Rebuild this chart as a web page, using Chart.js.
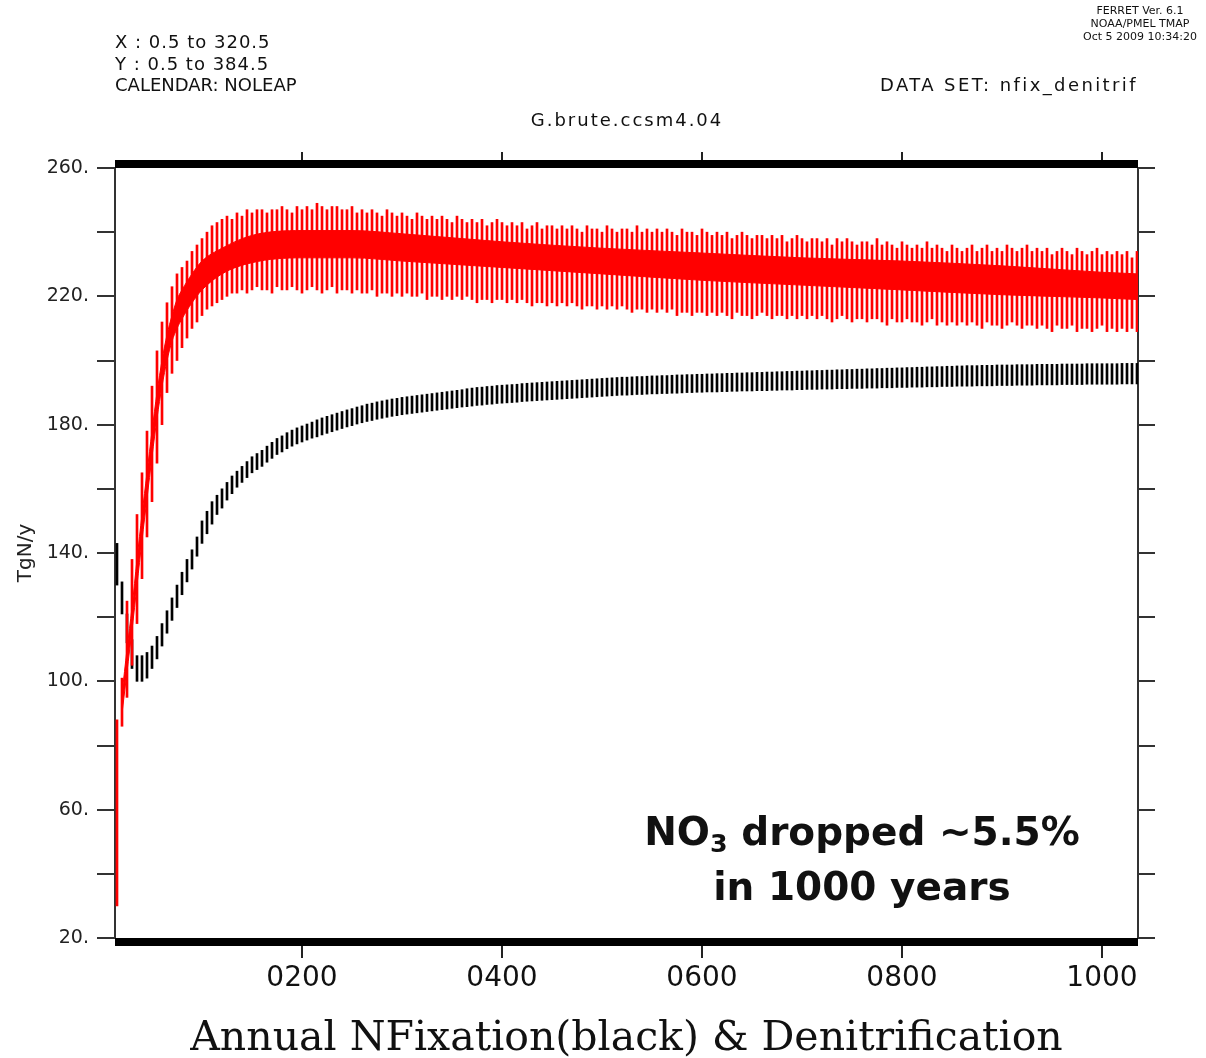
<!DOCTYPE html>
<html>
<head>
<meta charset="utf-8">
<script src="https://cdn.jsdelivr.net/npm/chart.js"></script>
<style>
  body { margin: 0; background: #fff; }
  #wrap { position: relative; width: 1206px; height: 1058px; font-family: 'DejaVu Sans', sans-serif; color: #111; }
  #myChart { position: absolute; left: 0; top: 0; display: block; }
  .txt { position: absolute; white-space: nowrap; }
  .note sub { font-size: 0.65em; vertical-align: -0.28em; line-height: 0; }
</style>
</head>
<body>
<div id="wrap">
  <canvas id="myChart" width="1206" height="1058"></canvas>

  <div class="txt" style="left:115px; top:31px; font-size:18px; line-height:21.5px; letter-spacing:1px;">X : 0.5 to 320.5</div>
  <div class="txt" style="left:115px; top:52.5px; font-size:18px; line-height:21.5px; letter-spacing:1px;">Y : 0.5 to 384.5</div>
  <div class="txt" style="left:115px; top:74px; font-size:18px; line-height:21.5px;">CALENDAR: NOLEAP</div>

  <div class="txt" style="right:68px; top:74px; font-size:18px; line-height:21.5px; letter-spacing:2.4px;">DATA SET: nfix_denitrif</div>
  <div class="txt" style="left:627px; top:109px; font-size:18px; line-height:21.5px; letter-spacing:2px; transform:translateX(-50%);">G.brute.ccsm4.04</div>

  <div class="txt" style="left:1140px; top:4px; font-size:11px; line-height:13px; text-align:center; transform:translateX(-50%);">FERRET Ver. 6.1<br>NOAA/PMEL TMAP<br>Oct  5 2009 10:34:20</div>

  <div class="txt note" style="left:862px; top:804px; font-size:39px; line-height:55px; font-weight:bold; text-align:center; transform:translateX(-50%);">NO<sub>3</sub> dropped ~5.5%<br>in 1000 years</div>
</div>

<script>
// eixos
const xMin = 13, xMax = 1036;
const xTickValues = [200, 400, 600, 800, 1000];
const yMin = 20, yMax = 260;
const yTickValues = [20, 40, 60, 80, 100, 120, 140, 160, 180, 200, 220, 240, 260];
const yLabelValues = [20, 60, 100, 140, 180, 220, 260];

// um traço a cada 5 anos, do ano 15 ao 1035
const firstYear = 15, yearStep = 5;

// Denitrification (vermelho) - extremos de cada oscilação
const redHigh = [
  88, 101, 125, 138, 152, 165, 178, 192, 203, 212,
  218, 223, 227, 229, 231, 234, 236, 238, 240, 242,
  243, 244, 245, 244, 246, 245, 247, 246, 247, 247,
  246, 247, 247, 248, 247, 246, 248, 247, 248, 247,
  249, 248, 247, 248, 248, 247, 247, 248, 246, 247,
  246, 247, 246, 245, 247, 246, 245, 246, 245, 244,
  246, 245, 244, 245, 244, 245, 244, 243, 245, 244,
  243, 244, 243, 244, 242, 243, 244, 243, 242, 243,
  242, 243, 241, 242, 243, 241, 242, 242, 241, 242,
  241, 242, 241, 240, 242, 241, 241, 240, 242, 241,
  240, 241, 241, 240, 242, 240, 241, 240, 241, 240,
  241, 240, 239, 241, 240, 240, 239, 241, 240, 239,
  240, 239, 240, 238, 239, 240, 239, 238, 239, 239,
  238, 239, 238, 239, 237, 238, 239, 238, 237, 238,
  238, 237, 238, 236, 238, 237, 238, 237, 236, 237,
  237, 236, 238, 236, 237, 236, 235, 237, 236, 235,
  236, 235, 237, 235, 236, 235, 234, 236, 235, 234,
  235, 236, 234, 235, 236, 234, 235, 234, 236, 235,
  234, 235, 236, 234, 235, 234, 235, 233, 234, 235,
  234, 233, 235, 234, 233, 234, 235, 233, 234, 233,
  234, 233, 234, 232, 234
];
const redLow = [
  30, 86, 95, 105, 118, 132, 145, 156, 168, 180,
  190, 196, 200, 204, 207, 210, 212, 214, 216, 217,
  218, 219, 220, 221, 221, 222, 221, 222, 223, 222,
  222, 221, 223, 222, 222, 223, 222, 221, 222, 223,
  222, 221, 222, 223, 221, 222, 222, 221, 222, 221,
  221, 222, 220, 221, 221, 220, 221, 220, 221, 220,
  220, 221, 219, 220, 220, 219, 220, 219, 220, 219,
  220, 219, 218, 219, 219, 218, 219, 219, 218, 219,
  218, 219, 218, 217, 218, 218, 217, 218, 217, 218,
  217, 218, 217, 216, 217, 217, 216, 217, 216, 217,
  216, 217, 216, 215, 216, 216, 215, 216, 215, 216,
  215, 216, 214, 215, 215, 214, 215, 215, 214, 215,
  214, 215, 214, 213, 215, 214, 214, 213, 214, 215,
  214, 213, 214, 214, 213, 214, 213, 214, 213, 214,
  213, 214, 213, 212, 213, 214, 213, 212, 213, 213,
  212, 213, 213, 212, 211, 213, 212, 212, 213, 212,
  212, 211, 212, 213, 211, 212, 211, 212, 211, 212,
  211, 212, 211, 210, 212, 211, 211, 210, 211, 212,
  211, 210, 211, 211, 210, 211, 210, 209, 211, 210,
  210, 211, 209, 210, 210, 209, 210, 211, 209, 210,
  209, 210, 209, 210, 209
];

// faixa central (cheia) da curva vermelha
const bandYears    = [20, 25, 30, 35, 40, 45, 50, 55, 60, 65, 70, 75, 80, 90, 100, 120, 150, 200, 250, 300, 400, 500, 600, 700, 800, 900, 1000, 1036];
const redBandLow   = [90, 103, 116, 130, 144, 157, 170, 182, 192, 200, 206, 210, 213, 218, 222, 227, 230.5, 232, 232, 231, 229, 227, 225, 223.5, 222, 220.5, 219.5, 219];
const redBandHigh  = [96, 110, 123, 138, 152, 165, 178, 190, 200, 208, 214, 219, 222, 227, 231, 235, 239, 240.5, 240.5, 239.5, 237, 235, 233.5, 232, 231, 229.5, 227.5, 227];

// NFixation (preto)
const blackLow = [
  130, 121, 112, 104, 100, 100, 101, 104, 107, 111,
  115, 119, 123, 127, 131, 135, 139, 143, 146, 149,
  152, 154, 156.5, 158.5, 160.5, 162, 163.5, 165, 166, 167,
  168.3, 169.5, 170.7, 171.5, 172.5, 173.3, 174, 174.6, 175.2, 175.8,
  176.2, 176.8, 177.3, 177.8, 178.3, 178.8, 179.3, 179.7, 180.2, 180.6,
  181, 181.3, 181.7, 182, 182.3, 182.6, 182.8, 183.1, 183.3, 183.5,
  183.7, 183.9, 184.1, 184.3, 184.5, 184.7, 184.9, 185.1, 185.3, 185.5,
  185.6, 185.8, 186, 186.1, 186.3, 186.4, 186.6, 186.7, 186.8, 186.9,
  187, 187.2, 187.3, 187.4, 187.5, 187.6, 187.7, 187.8, 187.9, 188,
  188.1, 188.2, 188.3, 188.4, 188.5, 188.6, 188.7, 188.8, 188.9, 189,
  189.1, 189.2, 189.2, 189.3, 189.4, 189.4, 189.5, 189.6, 189.6, 189.7,
  189.7, 189.8, 189.8, 189.9, 190, 190, 190.1, 190.1, 190.2, 190.2,
  190.2, 190.3, 190.3, 190.4, 190.4, 190.5, 190.5, 190.5, 190.6, 190.6,
  190.6, 190.7, 190.7, 190.8, 190.8, 190.8, 190.9, 190.9, 191, 191,
  191, 191.1, 191.1, 191.1, 191.2, 191.2, 191.2, 191.3, 191.3, 191.3,
  191.4, 191.4, 191.4, 191.5, 191.5, 191.5, 191.6, 191.6, 191.6, 191.7,
  191.7, 191.7, 191.8, 191.8, 191.8, 191.9, 191.9, 191.9, 192, 192,
  192, 192, 192.1, 192.1, 192.1, 192.1, 192.2, 192.2, 192.2, 192.2,
  192.3, 192.3, 192.3, 192.3, 192.4, 192.4, 192.4, 192.4, 192.4, 192.5,
  192.5, 192.5, 192.5, 192.5, 192.6, 192.6, 192.6, 192.6, 192.6, 192.6,
  192.6, 192.7, 192.7, 192.7, 192.7
];
const blackHigh = [
  143, 131, 121, 113, 108, 108, 109, 111, 114, 118,
  122, 126, 130, 134, 138, 141, 145, 150, 153, 156,
  158, 160, 162, 164, 165.5, 167, 168.5, 170, 171, 172,
  173.3, 174.5, 175.7, 176.5, 177.5, 178.3, 179, 179.6, 180.2, 180.8,
  181.5, 182.1, 182.6, 183.1, 183.6, 184.1, 184.6, 185, 185.5, 185.9,
  186.4, 186.7, 187.1, 187.4, 187.7, 188, 188.2, 188.5, 188.7, 188.9,
  189.1, 189.3, 189.5, 189.7, 189.9, 190.1, 190.3, 190.5, 190.7, 190.9,
  191.2, 191.4, 191.6, 191.7, 191.9, 192, 192.2, 192.3, 192.4, 192.5,
  192.6, 192.8, 192.9, 193, 193.1, 193.2, 193.3, 193.4, 193.5, 193.6,
  193.7, 193.8, 193.9, 194, 194.1, 194.2, 194.3, 194.4, 194.5, 194.6,
  194.7, 194.8, 194.8, 194.9, 195, 195, 195.1, 195.2, 195.2, 195.3,
  195.3, 195.4, 195.5, 195.5, 195.6, 195.6, 195.7, 195.7, 195.8, 195.8,
  195.9, 195.9, 196, 196, 196.1, 196.1, 196.2, 196.2, 196.3, 196.3,
  196.4, 196.4, 196.5, 196.5, 196.6, 196.6, 196.7, 196.7, 196.8, 196.8,
  196.9, 196.9, 197, 197, 197.1, 197.1, 197.2, 197.2, 197.3, 197.3,
  197.4, 197.4, 197.5, 197.5, 197.6, 197.6, 197.7, 197.7, 197.8, 197.8,
  197.9, 197.9, 198, 198, 198.1, 198.1, 198.2, 198.2, 198.3, 198.3,
  198.4, 198.4, 198.4, 198.5, 198.5, 198.5, 198.6, 198.6, 198.6, 198.6,
  198.7, 198.7, 198.7, 198.7, 198.8, 198.8, 198.8, 198.8, 198.8, 198.9,
  198.9, 198.9, 198.9, 198.9, 199, 199, 199, 199, 199, 199,
  199, 199.1, 199.1, 199.1, 199.1
];

// monta os pares {x, [min, max]} para as barras flutuantes
function floating(lows, highs) {
    return lows.map(function(lo, i) {
        return { x: firstYear + i * yearStep, y: [lo, highs[i]] };
    });
}
function points(xs, ys) {
    return xs.map(function(x, i) { return { x: x, y: ys[i] }; });
}

// barras grossas em cima e embaixo do quadro (estilo FERRET)
const thickFrame = {
    id: 'thickFrame',
    afterDatasetsDraw(chart) {
        const a = chart.chartArea;
        const ctx = chart.ctx;
        ctx.save();
        ctx.fillStyle = '#000';
        ctx.fillRect(a.left, a.top - 8, a.right - a.left, 8);
        ctx.fillRect(a.left, a.bottom, a.right - a.left, 8);
        ctx.restore();
    }
};

const tickFont = { family: 'DejaVu Sans', size: 19 };
const setXTicks = function(s) { s.ticks = xTickValues.map(function(v) { return { value: v }; }); };
const setYTicks = function(s) { s.ticks = yTickValues.map(function(v) { return { value: v }; }); };

const ctx = document.getElementById('myChart').getContext('2d');
const myChart = new Chart(ctx, {
    type: 'bar',
    data: {
        datasets: [
            {
                type: 'line', label: 'band low', data: points(bandYears, redBandLow),
                borderColor: '#ff0000', borderWidth: 1, pointRadius: 0, fill: false,
                cubicInterpolationMode: 'monotone', xAxisID: 'x', yAxisID: 'y'
            },
            {
                type: 'line', label: 'band high', data: points(bandYears, redBandHigh),
                borderColor: '#ff0000', borderWidth: 1, pointRadius: 0,
                fill: '-1', backgroundColor: '#ff0000',
                cubicInterpolationMode: 'monotone', xAxisID: 'x', yAxisID: 'y'
            },
            {
                label: 'Denitrification', data: floating(redLow, redHigh),
                backgroundColor: '#ff0000', borderWidth: 0, barThickness: 2, grouped: false,
                xAxisID: 'x', yAxisID: 'y'
            },
            {
                label: 'NFixation', data: floating(blackLow, blackHigh),
                backgroundColor: '#000000', borderWidth: 0, barThickness: 2, grouped: false,
                xAxisID: 'x', yAxisID: 'y'
            }
        ]
    },
    options: {
        responsive: false,
        animation: false,
        layout: { padding: 0 },
        plugins: {
            legend: { display: false },
            tooltip: { enabled: false }
        },
        scales: {
            x: {
                type: 'linear', position: 'bottom', min: xMin, max: xMax, offset: false,
                afterBuildTicks: setXTicks,
                afterFit: function(s) { s.height = 120; },
                grid: { drawOnChartArea: false, tickLength: 20, color: '#222', lineWidth: 2, offset: false },
                border: { display: false },
                ticks: {
                    padding: 4, color: '#111', autoSkip: false, maxRotation: 0,
                    font: { family: 'DejaVu Sans', size: 28 },
                    callback: function(v) { return String(v).padStart(4, '0'); }
                },
                title: {
                    display: true, text: 'Annual NFixation(black) & Denitrification', color: '#111',
                    font: { family: 'DejaVu Serif', size: 41, lineHeight: 0.9 }, padding: { top: 0, bottom: 0 }
                }
            },
            x2: {
                type: 'linear', position: 'top', min: xMin, max: xMax, offset: false,
                afterBuildTicks: setXTicks,
                afterFit: function(s) { s.height = 168; },
                grid: { drawOnChartArea: false, tickLength: 16, color: '#222', lineWidth: 2, offset: false },
                border: { display: false },
                ticks: { display: false }
            },
            y: {
                type: 'linear', position: 'left', min: yMin, max: yMax,
                afterBuildTicks: setYTicks,
                afterFit: function(s) { s.width = 115; },
                grid: { drawOnChartArea: false, tickLength: 18, color: '#333', lineWidth: 2 },
                border: { display: true, color: '#333', width: 2 },
                ticks: {
                    padding: 8, color: '#222', font: tickFont, autoSkip: false,
                    callback: function(v) { return yLabelValues.includes(v) ? v + '.' : ''; }
                },
                title: {
                    display: true, text: 'TgN/y', color: '#222',
                    font: { family: 'DejaVu Sans', size: 20 }, padding: { top: 14, bottom: 0 }
                }
            },
            y2: {
                type: 'linear', position: 'right', min: yMin, max: yMax,
                afterBuildTicks: setYTicks,
                afterFit: function(s) { s.width = 68; },
                grid: { drawOnChartArea: false, tickLength: 17, color: '#333', lineWidth: 2 },
                border: { display: true, color: '#333', width: 2 },
                ticks: { display: false }
            }
        }
    },
    plugins: [thickFrame]
});
</script>
</body>
</html>
